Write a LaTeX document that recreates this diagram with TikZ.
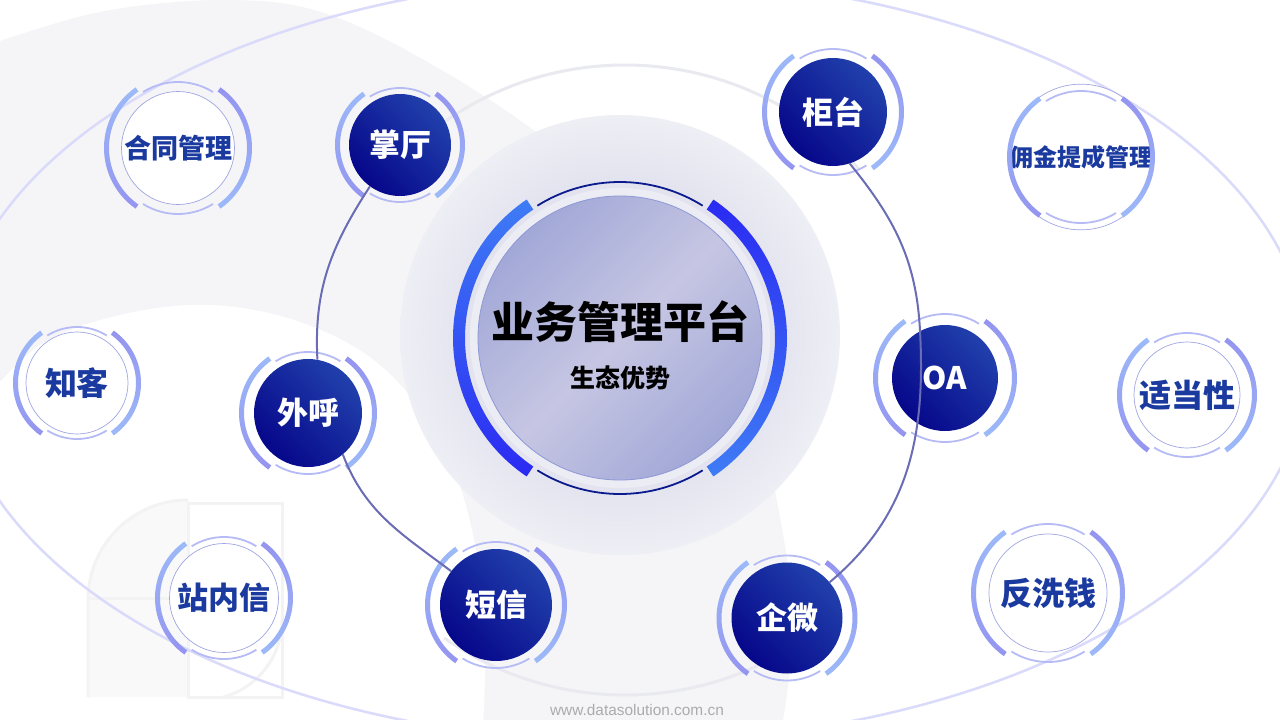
\documentclass[tikz,border=0pt]{standalone}
\usepackage{fontspec}
\setmainfont{Noto Sans CJK SC}
\newfontfamily\titlefont{Noto Sans CJK SC Black}
\newfontfamily\webfont{Liberation Sans}

\definecolor{bggray}{HTML}{F5F5F7}
\definecolor{ellline}{HTML}{DADAFB}
\definecolor{faint}{HTML}{E9E9F0}
\definecolor{logogray}{HTML}{F3F3F3}
\definecolor{glowin}{HTML}{CBCBE3}
\definecolor{glowout}{HTML}{EEEEF5}
\definecolor{glassA}{HTML}{A2A8D7}
\definecolor{glassB}{HTML}{C6C6E3}
\definecolor{glassedge}{HTML}{8E98D6}
\definecolor{arcblue}{HTML}{3F7CF5}
\definecolor{arcviolet}{HTML}{2A2AF2}
\definecolor{thinnavy}{HTML}{0B1B8E}
\definecolor{darkA}{HTML}{2140AC}
\definecolor{darkB}{HTML}{06078A}
\definecolor{ringA}{HTML}{9CBAF8}
\definecolor{ringB}{HTML}{9494F0}
\definecolor{ringthin}{HTML}{B6BBF5}
\definecolor{innerline}{HTML}{A0A6E2}
\definecolor{textblue}{HTML}{1B3A9F}
\definecolor{linkcol}{HTML}{6A6CB5}
\definecolor{webgray}{HTML}{ABABAB}

\tikzset{
  darknode/.style={circle, inner sep=0pt, left color=darkA, right color=darkB,
    shading angle=-45, text=white, font=\bfseries\fontsize{31}{31}\selectfont},
  lightnode/.style={circle, inner sep=0pt, fill=white, draw=innerline,
    line width=0.7pt, text=textblue, font=\bfseries\fontsize{31}{31}\selectfont},
  link/.style={draw=linkcol, line width=2pt},
  orbit/.style={draw=ellline, line width=2.5pt},
}

% ring of arcs round a node: #1 node, #2 radius
\newcommand{\ringdeco}[2]{%
  \begin{scope}[shift={(#1.center)}]
    \shade[top color=ringA, bottom color=ringB] ({125}:{#2+2.5}) arc[start angle=125, end angle=235, radius={#2+2.5}]
      -- ({235}:{#2-2.5}) arc[start angle=235, end angle=125, radius={#2-2.5}] -- cycle;
    \shade[top color=ringB, bottom color=ringA] ({-55}:{#2+2.5}) arc[start angle=-55, end angle=55, radius={#2+2.5}]
      -- ({55}:{#2-2.5}) arc[start angle=55, end angle=-55, radius={#2-2.5}] -- cycle;
    \draw[ringthin, line width=1.8pt] ({58}:{#2-5.5}) arc[start angle=58, end angle=122, radius={#2-5.5}];
    \draw[ringthin, line width=1.8pt] ({238}:{#2-5.5}) arc[start angle=238, end angle=302, radius={#2-5.5}];
  \end{scope}}

\begin{document}
\begin{tikzpicture}[x=1pt, y=-1pt]
  \useasboundingbox (0,0) rectangle (1280,720);
  \clip (0,0) rectangle (1280,720);
  \fill[white] (0,0) rectangle (1280,720);

  % background
  \fill[bggray] plot[smooth, tension=0.6] coordinates {(-20,48) (100,12) (230,0) (330,15) (450,75) (560,150)
    (650,230) (720,330) (765,450) (790,580) (792,650) (780,740)} -- (-20,740) -- cycle;
  \fill[white] plot[smooth, tension=0.6] coordinates {(-20,405) (40,345) (120,315) (210,305) (300,322)
    (380,365) (440,440) (472,530) (485,640) (482,740)} -- (-20,740) -- cycle;
  \fill[logogray!50] (88,697) -- (88,600) arc[start angle=180, end angle=270, radius=100] -- (188,697) -- cycle;
  \draw[logogray, line width=3pt] (188,503) rectangle (282,697);
  \draw[logogray, line width=3pt] (88,697) -- (88,600) arc[start angle=180, end angle=270, radius=100];
  \draw[logogray, line width=3pt] (88,598) -- (188,598);
  \draw[logogray, line width=3pt] (282,620) arc[start angle=0, end angle=75, radius=80];

  \draw[orbit] (630,360) ellipse[x radius=678, y radius=382];
  \draw[faint, line width=3pt] (625,380) ++(228:315) arc[start angle=228, end angle=318, radius=315];
  \draw[faint, line width=3pt] (625,380) ++(58:315) arc[start angle=58, end angle=125, radius=315];

  % centre
  \shade[inner color=glowin, outer color=glowout] (620,335) circle (220);
  \begin{scope}[shift={(620,338)}]
    \fill[white, opacity=0.35] (0,0) circle (150);
    \shade[top color=arcblue, bottom color=arcviolet] (124:167) arc[start angle=124, end angle=236, radius=167]
      -- (236:155) arc[start angle=236, end angle=124, radius=155] -- cycle;
    \shade[top color=arcviolet, bottom color=arcblue] (-56:167) arc[start angle=-56, end angle=56, radius=167]
      -- (56:155) arc[start angle=56, end angle=-56, radius=155] -- cycle;
    \draw[thinnavy, line width=1.8pt] (58:156) arc[start angle=58, end angle=122, radius=156];
    \draw[thinnavy, line width=1.8pt] (238:156) arc[start angle=238, end angle=302, radius=156];
  \end{scope}
  \node[circle, minimum size=284pt, draw=glassedge, line width=0.8pt, left color=glassA,
    right color=glassA, middle color=glassB, shading angle=45] (core) at (620,338) {};
  \node[font=\titlefont\fontsize{43}{43}\selectfont] (title) at (620,322) {业务管理平台};
  \node[font=\bfseries\fontsize{25}{25}\selectfont] (sub) at (620,378) {生态优势};

  % dark nodes
  \node[darknode, minimum size=102pt] (zt) at (400,145) {掌厅};
  \node[darknode, minimum size=108pt] (gt) at (833,112) {柜台};
  \node[darknode, minimum size=106pt] (oa) at (945,378) {OA};
  \node[darknode, minimum size=108pt] (wh) at (308,413) {外呼};
  \node[darknode, minimum size=112pt] (dx) at (496,605) {短信};
  \node[darknode, minimum size=111pt] (qw) at (787,618) {企微};

  % light nodes
  \node[lightnode, minimum size=113pt, font=\bfseries\fontsize{27}{27}\selectfont] (ht) at (178,148) {合同管理};
  \node[lightnode, minimum size=115pt, font=\bfseries\fontsize{24}{24}\selectfont] (yj) at (1081,157) {佣金提成管理};
  \node[lightnode, minimum size=102pt, font=\bfseries\fontsize{32}{32}\selectfont] (zk) at (77,383) {知客};
  \node[lightnode, minimum size=106pt, font=\bfseries\fontsize{32}{32}\selectfont] (sdx) at (1187,395) {适当性};
  \node[lightnode, minimum size=109pt] (znx) at (224,598) {站内信};
  \node[lightnode, minimum size=118pt, font=\bfseries\fontsize{32}{32}\selectfont] (fxq) at (1048,593) {反洗钱};

  \ringdeco{zt}{62.5}
  \ringdeco{gt}{68.5}
  \ringdeco{oa}{69.5}
  \ringdeco{wh}{66.5}
  \ringdeco{dx}{68.5}
  \ringdeco{qw}{68}
  \ringdeco{ht}{71.5}
  \ringdeco{yj}{71.5}
  \ringdeco{zk}{61.5}
  \ringdeco{sdx}{67.5}
  \ringdeco{znx}{66.5}
  \ringdeco{fxq}{74.5}

  % links
  \draw[link] (zt.234) to[out=237, in=93] (wh.80);
  \draw[link] (wh.-50) to[out=291, in=143] (dx);
  \draw[link] (gt.288) to[out=309, in=93] (oa.118);
  \draw[link] (oa.118) to[out=273, in=40] (qw);

  \node[font=\webfont\fontsize{15.4}{15.4}\selectfont, text=webgray] (web) at (637,710) {www.datasolution.com.cn};
\end{tikzpicture}
\end{document}
